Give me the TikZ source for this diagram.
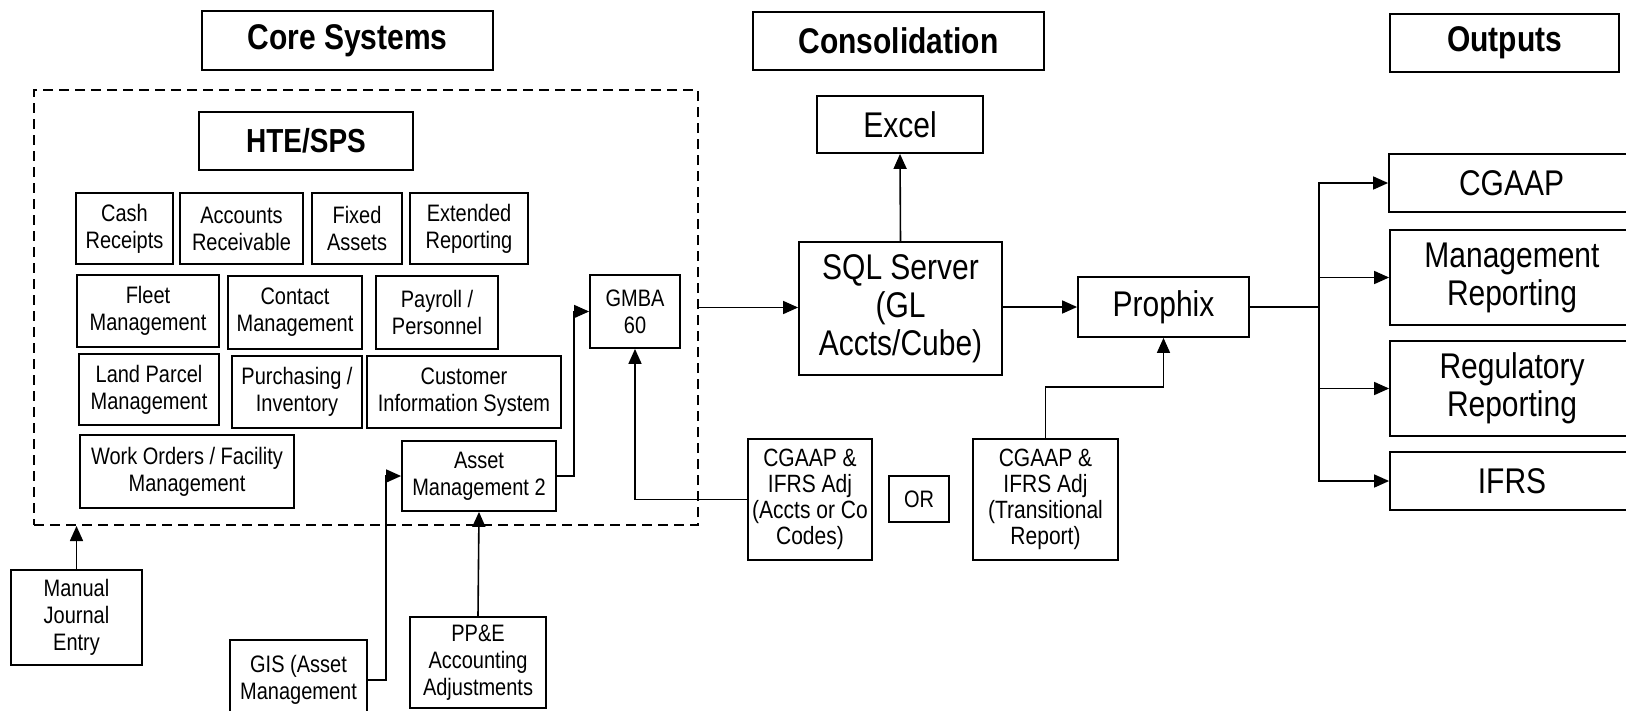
\documentclass[tikz,border=0pt]{standalone}
\usepackage{fontspec}
\setmainfont[FakeStretch=0.84]{Liberation Sans}
\usetikzlibrary{arrows.meta}
\begin{document}
\begin{tikzpicture}[x=1pt,y=-1pt,
  box/.style={draw, line width=1.8pt, inner sep=1pt, align=center},
  sm/.style={box, font=\fontsize{23.8}{27}\selectfont},
  lg/.style={box, font=\fontsize{35.7}{38}\selectfont},
  hd/.style={box, font=\fontsize{35.7}{38}\selectfont\bfseries},
  adj/.style={box, font=\fontsize{25}{26}\selectfont},
  conn/.style={line width=1.6pt},
  arr/.style={conn, -{Triangle[length=15pt,width=13pt]}},
  dbox/.style={draw, line width=2pt, dash pattern=on 10pt off 6pt},
]
\useasboundingbox (0,0) rectangle (1626,710);
\fill[white] (0,0) rectangle (1626,710);

\node[hd, minimum width=291pt, minimum height=59pt] (hcore) at (347.5,40.5) {Core Systems};
\node[hd, minimum width=291pt, minimum height=58pt] (hcons) at (898.5,41) {Consolidation};
\node[hd, minimum width=229pt, minimum height=58pt] (hout) at (1504.5,43) {Outputs};

\node[dbox, minimum width=664pt, minimum height=435pt, inner sep=0pt] (core) at (366,307.5) {};
\node[box, font=\fontsize{33.3}{36}\selectfont\bfseries, minimum width=214pt, minimum height=58pt] (hte) at (306,141) {HTE/SPS};
\node[sm, minimum width=97pt, minimum height=71pt] (cash) at (124.5,228.5) {Cash\\Receipts};
\node[sm, minimum width=123pt, minimum height=71pt] (ar) at (241.5,228.5) {Accounts\\Receivable};
\node[sm, minimum width=90pt, minimum height=71pt] (fa) at (357,228.5) {Fixed\\Assets};
\node[sm, minimum width=118pt, minimum height=71pt] (er) at (469,228.5) {Extended\\Reporting};
\node[sm, minimum width=142pt, minimum height=72pt] (fleet) at (148,311) {Fleet\\Management};
\node[sm, minimum width=134pt, minimum height=73pt] (contact) at (295,312.5) {Contact\\Management};
\node[sm, minimum width=122pt, minimum height=73pt] (payroll) at (437,312.5) {Payroll /\\Personnel};
\node[sm, minimum width=90pt, minimum height=73pt] (gmba) at (635,311.5) {GMBA\\60};
\node[sm, minimum width=140pt, minimum height=71pt] (land) at (149,389.5) {Land Parcel\\Management};
\node[sm, minimum width=130pt, minimum height=72pt] (purch) at (297,392) {Purchasing /\\Inventory};
\node[sm, minimum width=194pt, minimum height=72pt] (cis) at (464,392) {Customer\\Information System};
\node[sm, minimum width=214pt, minimum height=73pt] (work) at (187,471.5) {Work Orders / Facility\\Management};
\node[sm, minimum width=154pt, minimum height=70pt] (am) at (479,476) {Asset\\Management 2};

\node[sm, minimum width=131pt, minimum height=95pt] (mje) at (76.5,617.5) {Manual\\Journal\\Entry};
\node[sm, minimum width=137pt, minimum height=80pt] (gis) at (298.5,680) {GIS (Asset\\Management};
\node[sm, minimum width=136pt, minimum height=91pt] (ppe) at (478,662.5) {PP\&E\\Accounting\\Adjustments};

\node[adj, minimum width=124pt, minimum height=121pt] (adj1) at (810,499.5) {CGAAP \&\\IFRS Adj\\(Accts or Co\\Codes)};
\node[sm, minimum width=60pt, minimum height=46pt] (or) at (919,499) {OR};
\node[adj, minimum width=145pt, minimum height=121pt] (adj2) at (1045.5,499.5) {CGAAP \&\\IFRS Adj\\(Transitional\\Report)};

\node[lg, minimum width=166pt, minimum height=57pt] (excel) at (900,124.5) {Excel};
\node[lg, minimum width=203pt, minimum height=133pt] (sql) at (900.5,308.5) {SQL Server\\(GL\\Accts/Cube)};
\node[lg, minimum width=171pt, minimum height=60pt] (prophix) at (1163.5,307) {Prophix};

\node[lg, minimum width=245pt, minimum height=58pt] (ocg) at (1511.5,183) {CGAAP};
\node[lg, minimum width=244pt, minimum height=95pt] (omr) at (1512,277.5) {Management\\Reporting};
\node[lg, minimum width=244pt, minimum height=95pt] (orr) at (1512,388.5) {Regulatory\\Reporting};
\node[lg, minimum width=244pt, minimum height=58pt] (oif) at (1512,481) {IFRS};

\coordinate (br) at (1319,307);
\draw[conn] (prophix.east) -- (br);
\draw[arr] (br) |- (ocg.west);
\draw[arr] (br) |- (omr.west);
\draw[arr] (br) |- (orr.west);
\draw[arr] (br) |- (oif.west);
\draw[arr] (sql.east |- prophix.west) -- (prophix.west);
\draw[arr] (core.east) -- (sql.west |- core.east);
\draw[arr] (sql.north) -- (excel.south);
\draw[arr] (adj2.north) -- ++(0,-51) -| (prophix.south);
\draw[arr] (adj1.west) -| (gmba.south);
\draw[arr] (am.east) -- ++(17,0) |- (gmba.west);
\draw[arr] (gis.east) -- ++(18,0) |- (am.west);
\draw[arr] (ppe.north) -- (am.south);
\draw[arr] (mje.north) -- (mje.north |- core.south);
\end{tikzpicture}
\end{document}
